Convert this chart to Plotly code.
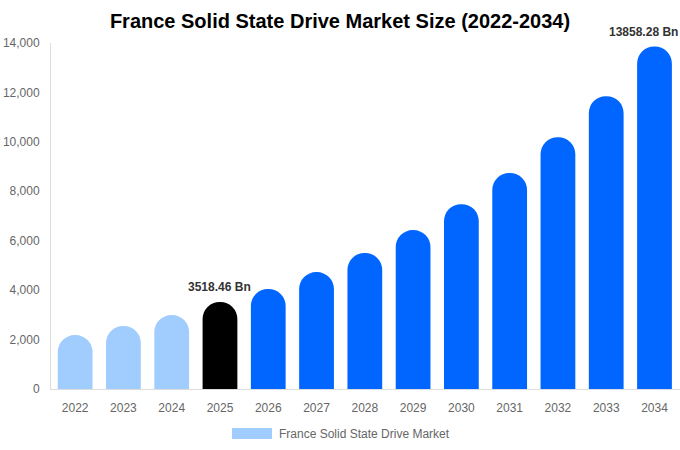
import plotly.graph_objects as go

years = ["2022", "2023", "2024", "2025", "2026", "2027", "2028",
         "2029", "2030", "2031", "2032", "2033", "2034"]
values = [2180, 2550, 2990, 3518.46, 4050, 4730, 5500,
          6430, 7480, 8740, 10190, 11850, 13858.28]
colors = ["#a0cdfd", "#a0cdfd", "#a0cdfd", "#000000", "#0066ff", "#0066ff", "#0066ff",
          "#0066ff", "#0066ff", "#0066ff", "#0066ff", "#0066ff", "#0066ff"]
labels = ["", "", "", "3518.46 Bn", "", "", "", "", "", "", "", "", "13858.28 Bn"]
series_name = "France Solid State Drive Market"
legend_color = "#a0cdfd"
title = "France Solid State Drive Market Size (2022-2034)"

W, H = 680, 450
ML, MR, MT, MB = 51, 0, 43, 61
PW, PH = W - ML - MR, H - MT - MB

def px_x(p):
    return (p - ML) / PW

def px_y(p):
    return (H - MB - p) / PH

fig = go.Figure()
fig.add_trace(go.Bar(
    x=years, y=values, name=series_name,
    marker=dict(color=colors, cornerradius="50%", line=dict(width=0)),
    showlegend=False, hoverinfo="x+y",
))

# value labels, taken from the data (x given as category index)
for i, (v, lab) in enumerate(zip(values, labels)):
    if not lab:
        continue
    last = i == len(years) - 1
    fig.add_annotation(
        x=i, y=v, text="<b>" + lab + "</b>", showarrow=False,
        xanchor="center", yanchor="bottom", yshift=6, xshift=-11 if last else 0,
        font=dict(family="Liberation Sans, Arial", size=12, color="#333333"),
    )

fig.add_shape(type="rect", xref="paper", yref="paper",
              x0=px_x(232), x1=px_x(272), y0=px_y(428), y1=px_y(439),
              fillcolor=legend_color, line=dict(width=0))
fig.add_annotation(text=series_name, xref="paper", yref="paper",
                   x=px_x(277), y=px_y(433.5), xanchor="left", yanchor="middle",
                   showarrow=False, font=dict(size=12, color="#666666"))

fig.update_layout(
    width=W, height=H,
    margin=dict(l=ML, r=MR, t=MT, b=MB, autoexpand=False),
    paper_bgcolor="white", plot_bgcolor="white",
    font=dict(family="Liberation Sans, Arial", size=12, color="#666666"),
    title=dict(text="<b>" + title + "</b>", x=0.5, xanchor="center", y=1 - 21 / H, yanchor="middle",
               font=dict(size=20, color="#000000", family="Liberation Sans, Arial")),
    bargap=0.28,
    showlegend=False,
    xaxis=dict(type="category", showline=True, linecolor="#dddddd", linewidth=1, ticks="",
               showgrid=False, ticklabelstandoff=8, tickfont=dict(size=12, color="#666666")),
    yaxis=dict(range=[0, 14000], dtick=2000, tickformat=",", showline=True, linecolor="#dddddd",
               linewidth=1, showgrid=False, zeroline=False, ticks="", ticklabelstandoff=8,
               tickfont=dict(size=12, color="#666666")),
)

fig.write_html("out.html", config={"displayModeBar": False},
               post_script="document.body.style.margin='0';")
